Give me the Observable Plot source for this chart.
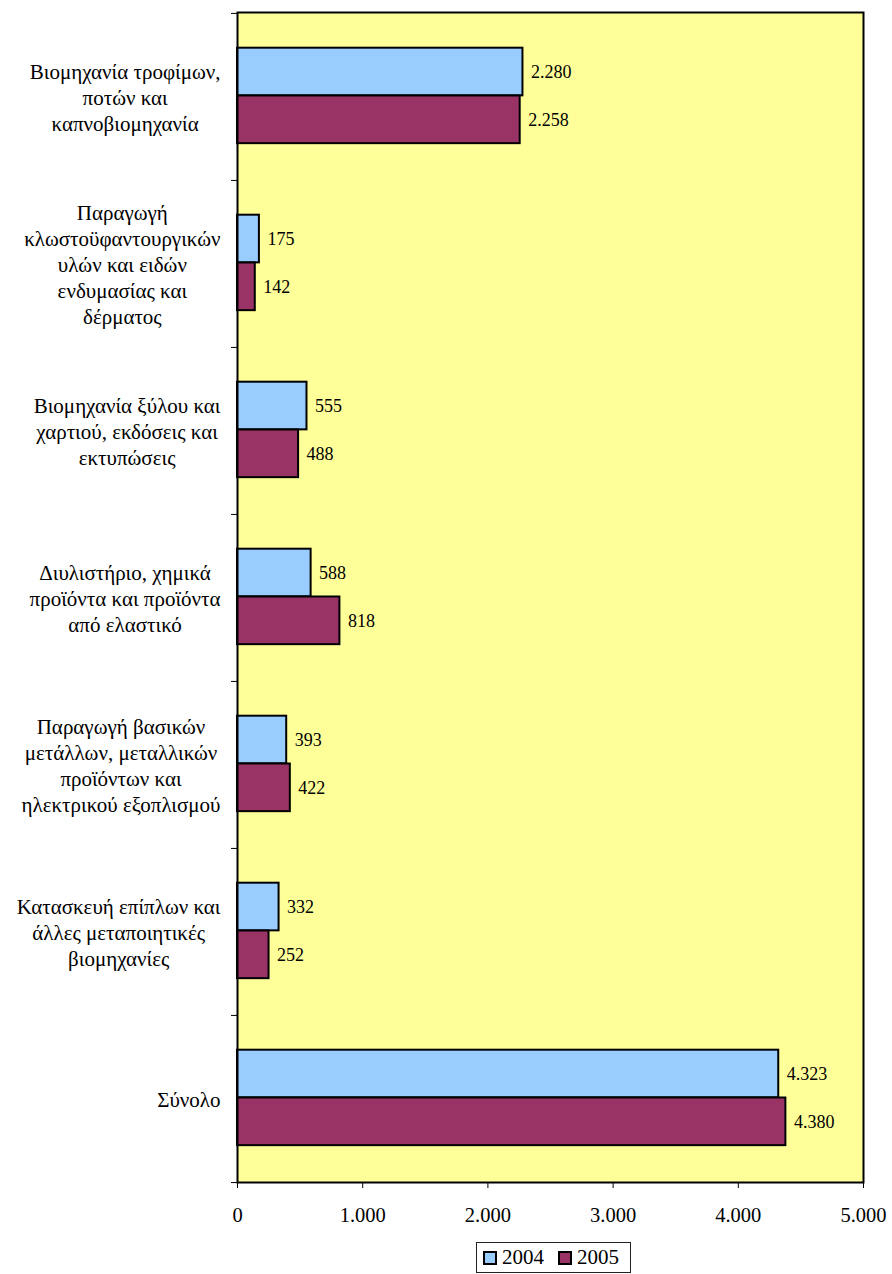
<!DOCTYPE html>
<html><head><meta charset="utf-8">
<script src="https://cdn.jsdelivr.net/npm/d3@7"></script>
<script src="https://cdn.jsdelivr.net/npm/@observablehq/plot@0.6"></script>
<style>
body{margin:0;background:#fff;font-family:'Liberation Serif','Times New Roman',serif;position:relative;width:892px;height:1274px;overflow:hidden}
#legend{position:absolute;left:476px;top:1242px;width:153px;height:29px;border:1px solid #222;box-sizing:content-box;font-size:21px;color:#000;display:flex;align-items:center}
#legend .item{display:flex;align-items:center}
#legend .sw{width:10px;height:10px;border:2px solid #000;display:inline-block;margin-right:5px}
svg text{font-family:'Liberation Serif','Times New Roman',serif}
</style></head><body>
<div id="chart"></div>
<div id="legend"></div>
<script>
const categories = [
  "Βιομηχανία τροφίμων,\nποτών και\nκαπνοβιομηχανία",
  "Παραγωγή\nκλωστοϋφαντουργικών\nυλών και ειδών\nενδυμασίας και\nδέρματος",
  "Βιομηχανία ξύλου και\nχαρτιού, εκδόσεις και\nεκτυπώσεις",
  "Διυλιστήριο, χημικά\nπροϊόντα και προϊόντα\nαπό ελαστικό",
  "Παραγωγή βασικών\nμετάλλων, μεταλλικών\nπροϊόντων και\nηλεκτρικού εξοπλισμού",
  "Κατασκευή επίπλων και\nάλλες μεταποιητικές\nβιομηχανίες",
  "Σύνολο"
];
const values2004 = [2280, 175, 555, 588, 393, 332, 4323];
const values2005 = [2258, 142, 488, 818, 422, 252, 4380];
const years = ["2004", "2005"];
const colors = ["#99CCFF", "#993366"];
const xTicks = [0, 1000, 2000, 3000, 4000, 5000];

const fmt = d3.formatLocale({decimal: ",", thousands: ".", grouping: [3], currency: ["", "€"]}).format(",");

const rows2004 = categories.map((c, i) => ({cat: c, year: years[0], value: values2004[i]}));
const rows2005 = categories.map((c, i) => ({cat: c, year: years[1], value: values2005[i]}));

const W = 892, H = 1236, mT = 12, mB = 54, mL = 237, mR = 29;
const band = (H - mT - mB) / categories.length;
const gapTop = band * 0.2076, barH = band * 0.286;
const font = "'Liberation Serif','Times New Roman',serif";
const catSize = 21;

const ctx = document.createElement("canvas").getContext("2d");
ctx.font = `${catSize}px ${font}`;
const blockWidth = c => Math.max(...c.split("\n").map(s => ctx.measureText(s).width));

const barOpts = (y0) => ({
  x: "value", y: "cat", fill: "year", stroke: "#000", strokeWidth: 2,
  insetTop: y0, insetBottom: band - y0 - barH
});
const innerW = W - mL - mR;

const plot = Plot.plot({
  width: W, height: H,
  marginTop: mT, marginBottom: mB, marginLeft: mL, marginRight: mR,
  style: {fontFamily: font, fontSize: "20.5px", color: "#000", background: "transparent"},
  x: {domain: [0, 5000], ticks: xTicks, tickFormat: fmt, tickSize: 6, tickPadding: 19, label: null},
  y: {domain: categories, padding: 0, axis: null},
  color: {domain: years, range: colors},
  marks: [
    Plot.frame({fill: "#FFFF99"}),
    Plot.barX(rows2004, barOpts(gapTop)),
    Plot.barX(rows2005, barOpts(gapTop + barH)),
    Plot.text(rows2004, {x: "value", y: "cat", text: d => fmt(d.value), dx: 8, dy: gapTop + barH / 2 - band / 2, textAnchor: "start", fontSize: 18, fill: "#000"}),
    Plot.text(rows2005, {x: "value", y: "cat", text: d => fmt(d.value), dx: 8, dy: gapTop + barH * 1.5 - band / 2, textAnchor: "start", fontSize: 18, fill: "#000"}),
    Plot.frame({stroke: "#000", strokeWidth: 2}),
    Plot.tickY(categories, {y: d => d, dy: -band / 2, insetLeft: -6, insetRight: innerW, stroke: "#000"}),
    Plot.tickY(categories.slice(-1), {y: d => d, dy: band / 2, insetLeft: -6, insetRight: innerW, stroke: "#000"}),
    ...categories.map(c => Plot.text([c], {
      y: d => d, text: d => d, frameAnchor: "left", textAnchor: "middle",
      dx: -17 - blockWidth(c) / 2, lineHeight: 1.24, fontSize: catSize, fill: "#000"
    }))
  ]
});
document.getElementById("chart").appendChild(plot);

const legend = document.getElementById("legend");
years.forEach((y, i) => {
  const item = document.createElement("span");
  item.className = "item";
  item.style.marginLeft = i === 0 ? "6px" : "14px";
  item.innerHTML = `<span class="sw" style="background:${colors[i]}"></span>${y}`;
  legend.appendChild(item);
});
</script>
</body></html>
